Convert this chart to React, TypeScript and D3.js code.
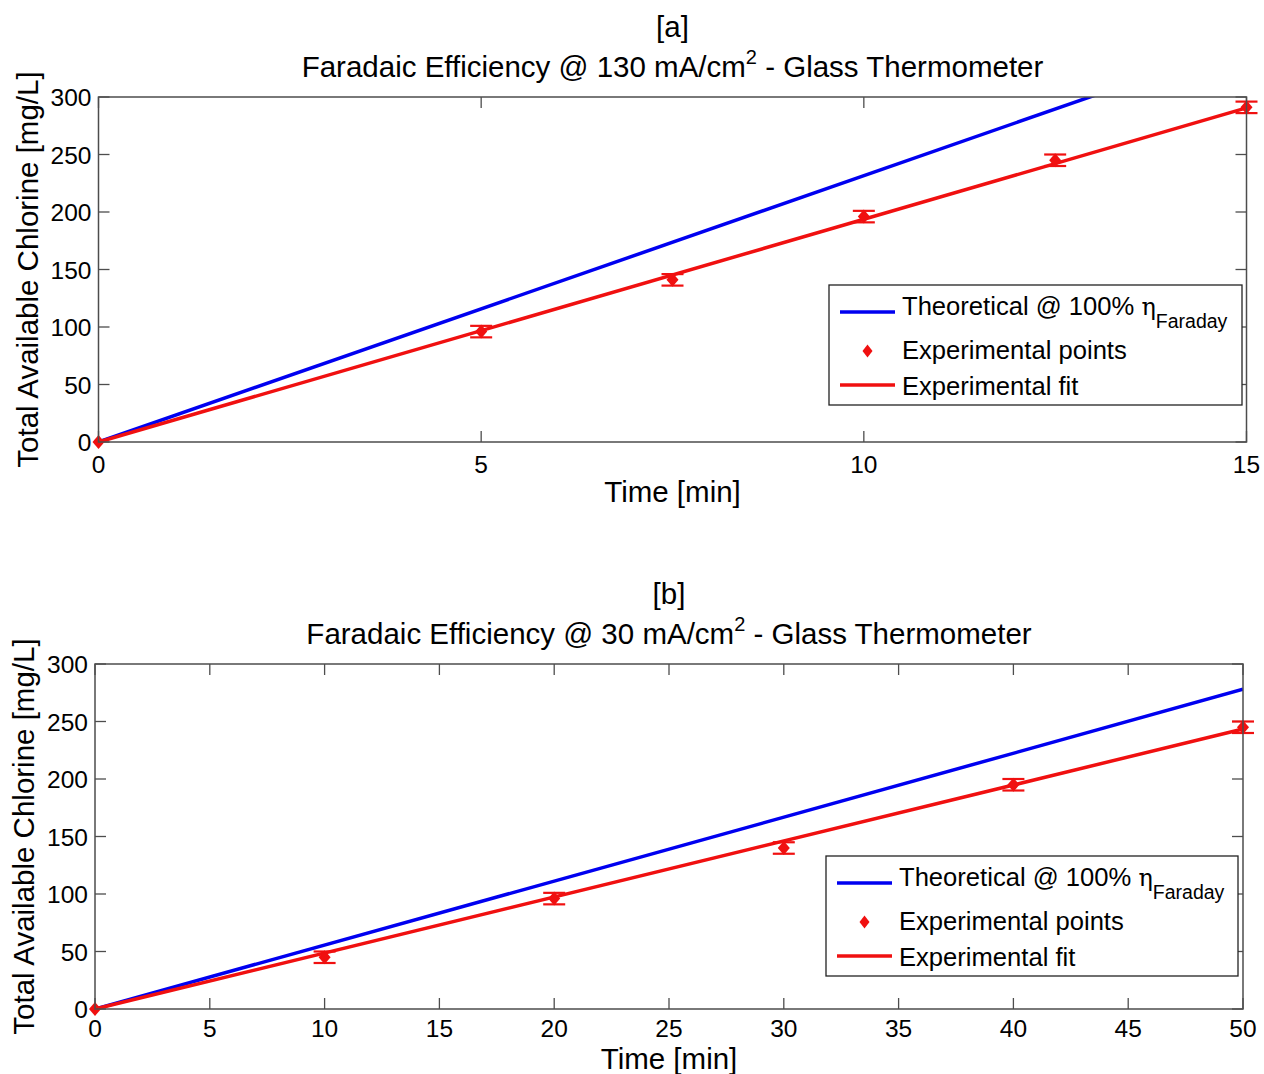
import React from "react";
import * as d3 from "d3";

// Panel [a]: 130 mA/cm2
const timeA = [0, 5, 7.5, 10, 12.5, 15];
const chlorineA = [0, 96, 141, 196, 245, 291];
const errorA = [0, 5, 5, 5, 5, 5];
const theoryTimeA = [0, 15];
const theoryA = [0, 347.4];
const fitTimeA = [0, 15];
const fitA = [0, 290.5];
const xTicksA = [0, 5, 10, 15];

// Panel [b]: 30 mA/cm2
const timeB = [0, 10, 20, 30, 40, 50];
const chlorineB = [0, 45, 96, 140, 195, 245];
const errorB = [0, 5, 5, 5, 5, 5];
const theoryTimeB = [0, 50];
const theoryB = [0, 278];
const fitTimeB = [0, 50];
const fitB = [0, 243.5];
const xTicksB = [0, 5, 10, 15, 20, 25, 30, 35, 40, 45, 50];

const yTicks = [0, 50, 100, 150, 200, 250, 300];

const FONT = "'Liberation Sans', Arial, Helvetica, sans-serif";
const BLUE = "#0000f0";
const RED = "#f01010";
const AXIS = "#4d4d4d";

type PanelProps = {
  id: string;
  tag: string;
  current: string;
  left: number;
  right: number;
  top: number;
  bottom: number;
  xMax: number;
  xTicks: number[];
  tickLabelGap: number;
  xLabelGap: number;
  time: number[];
  values: number[];
  errors: number[];
  theoryTime: number[];
  theory: number[];
  fitTime: number[];
  fit: number[];
  legend: { x0: number; y0: number; x1: number; y1: number };
};

function Panel(p: PanelProps) {
  const x = d3.scaleLinear().domain([0, p.xMax]).range([p.left, p.right]);
  const y = d3.scaleLinear().domain([0, 300]).range([p.bottom, p.top]);
  const line = d3
    .line<[number, number]>()
    .x((d) => x(d[0]))
    .y((d) => y(d[1]));
  const theoryPts = p.theoryTime.map((t, i) => [t, p.theory[i]] as [number, number]);
  const fitPts = p.fitTime.map((t, i) => [t, p.fit[i]] as [number, number]);
  const tick = 11;
  const cx = (p.left + p.right) / 2;
  const cy = (p.top + p.bottom) / 2;
  const diamond = (px: number, py: number, w: number, h: number) =>
    `M${px},${py - h}L${px + w},${py}L${px},${py + h}L${px - w},${py}Z`;
  const lg = p.legend;
  const row1 = lg.y0 + 27;
  const row2 = lg.y0 + 66;
  const row3 = lg.y0 + 100;
  const lineX0 = lg.x0 + 11;
  const lineX1 = lg.x0 + 66;
  const textX = lg.x0 + 73;

  return (
    <g fontFamily={FONT} fill="#000">
      {/* titles */}
      <text x={cx} y={p.top - 60} textAnchor="middle" fontSize={29.5}>
        {p.tag}
      </text>
      <text x={cx} y={p.top - 20} textAnchor="middle" fontSize={29.5}>
        {`Faradaic Efficiency @ ${p.current} mA/cm`}
        <tspan fontSize={20} dy={-13}>2</tspan>
        <tspan dy={13}>{" - Glass Thermometer"}</tspan>
      </text>

      <clipPath id={`clip-${p.id}`}>
        <rect x={p.left} y={p.top} width={p.right - p.left} height={p.bottom - p.top} />
      </clipPath>

      {/* ticks on all four sides */}
      {p.xTicks.map((t) => (
        <g key={`xt${t}`} stroke={AXIS} strokeWidth={1.3}>
          <line x1={x(t)} x2={x(t)} y1={p.bottom} y2={p.bottom - tick} />
          <line x1={x(t)} x2={x(t)} y1={p.top} y2={p.top + tick} />
        </g>
      ))}
      {yTicks.map((t) => (
        <g key={`yt${t}`} stroke={AXIS} strokeWidth={1.3}>
          <line x1={p.left} x2={p.left + tick} y1={y(t)} y2={y(t)} />
          <line x1={p.right} x2={p.right - tick} y1={y(t)} y2={y(t)} />
        </g>
      ))}

      {/* data */}
      <g clipPath={`url(#clip-${p.id})`}>
        <path d={line(theoryPts) ?? ""} fill="none" stroke={BLUE} strokeWidth={3.5} />
      </g>
      <path d={line(fitPts) ?? ""} fill="none" stroke={RED} strokeWidth={3.5} />
      {p.time.map((t, i) => {
        const px = x(t);
        const lo = y(p.values[i] - p.errors[i]);
        const hi = y(p.values[i] + p.errors[i]);
        return (
          <g key={`pt${i}`}>
            {p.errors[i] > 0 && (
              <g stroke={RED} strokeWidth={2.2}>
                <line x1={px} x2={px} y1={lo} y2={hi} />
                <line x1={px - 11} x2={px + 11} y1={lo} y2={lo} />
                <line x1={px - 11} x2={px + 11} y1={hi} y2={hi} />
              </g>
            )}
            <path d={diamond(px, y(p.values[i]), 6, 7)} fill={RED} />
          </g>
        );
      })}

      {/* box */}
      <rect
        x={p.left}
        y={p.top}
        width={p.right - p.left}
        height={p.bottom - p.top}
        fill="none"
        stroke={AXIS}
        strokeWidth={1.5}
      />

      {/* tick labels */}
      {p.xTicks.map((t) => (
        <text
          key={`xl${t}`}
          x={x(t)}
          y={p.bottom + p.tickLabelGap}
          textAnchor="middle"
          fontSize={24.5}
        >
          {t}
        </text>
      ))}
      {yTicks.map((t) => (
        <text key={`yl${t}`} x={p.left - 7} y={y(t) + 9} textAnchor="end" fontSize={24.5}>
          {t}
        </text>
      ))}

      {/* axis labels */}
      <text x={cx} y={p.bottom + p.xLabelGap} textAnchor="middle" fontSize={29.5}>
        Time [min]
      </text>
      <text
        transform={`translate(${p.left - 61},${cy}) rotate(-90)`}
        textAnchor="middle"
        fontSize={29.5}
      >
        Total Available Chlorine [mg/L]
      </text>

      {/* legend */}
      <rect
        x={lg.x0}
        y={lg.y0}
        width={lg.x1 - lg.x0}
        height={lg.y1 - lg.y0}
        fill="#fff"
        stroke="#222"
        strokeWidth={1.3}
      />
      <line x1={lineX0} x2={lineX1} y1={row1} y2={row1} stroke={BLUE} strokeWidth={3.5} />
      <path d={diamond((lineX0 + lineX1) / 2, row2, 5, 6.5)} fill={RED} />
      <line x1={lineX0} x2={lineX1} y1={row3} y2={row3} stroke={RED} strokeWidth={3.5} />
      <text x={textX} y={row1 + 3} fontSize={25.6}>
        {"Theoretical @ 100% "}
        <tspan fontFamily="'DejaVu Serif', 'Liberation Serif', serif" fontSize={24}>η</tspan>
        <tspan fontSize={19.5} dy={13}>Faraday</tspan>
      </text>
      <text x={textX} y={row2 + 8} fontSize={25.6}>
        Experimental points
      </text>
      <text x={textX} y={row3 + 10} fontSize={25.6}>
        Experimental fit
      </text>
    </g>
  );
}

export default function App() {
  return (
    <svg
      width={1264}
      height={1074}
      style={{ position: "absolute", left: 0, top: 0, background: "#fff" }}
    >
      <rect width={1264} height={1074} fill="#fff" />
      <Panel
        id="a"
        tag="[a]"
        current="130"
        left={98.5}
        right={1246.5}
        top={97}
        bottom={442}
        xMax={15}
        xTicks={xTicksA}
        tickLabelGap={31}
        xLabelGap={60}
        time={timeA}
        values={chlorineA}
        errors={errorA}
        theoryTime={theoryTimeA}
        theory={theoryA}
        fitTime={fitTimeA}
        fit={fitA}
        legend={{ x0: 829, y0: 285, x1: 1242, y1: 405 }}
      />
      <Panel
        id="b"
        tag="[b]"
        current="30"
        left={95}
        right={1243}
        top={664}
        bottom={1009}
        xMax={50}
        xTicks={xTicksB}
        tickLabelGap={28}
        xLabelGap={60}
        time={timeB}
        values={chlorineB}
        errors={errorB}
        theoryTime={theoryTimeB}
        theory={theoryB}
        fitTime={fitTimeB}
        fit={fitB}
        legend={{ x0: 826, y0: 856, x1: 1238, y1: 976 }}
      />
    </svg>
  );
}
